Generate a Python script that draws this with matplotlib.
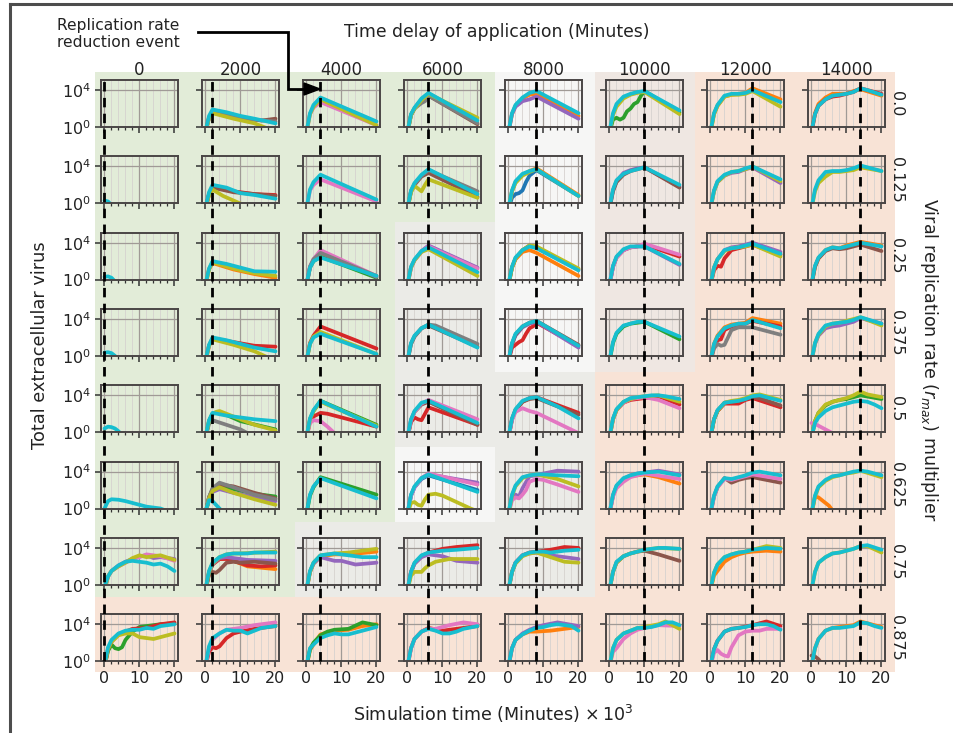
import matplotlib
matplotlib.use("Agg")
import numpy as np
import matplotlib.pyplot as plt
from matplotlib.lines import Line2D
from matplotlib.patches import Rectangle, Polygon
from matplotlib.ticker import FixedLocator, NullLocator

plt.rcParams['font.family'] = ['DejaVu Sans']
plt.rcParams['mathtext.fontset'] = 'dejavusans'

# ---------------------------------------------------------------- data
delays = [0, 2000, 4000, 6000, 8000, 10000, 12000, 14000]          # minutes
multipliers = ['0.0', '0.125', '0.25', '0.375', '0.5', '0.625', '0.75', '0.875']

# outcome zone of each (multiplier, delay) cell
zones = [
    'GGGGWPSS',
    'GGGGWPSS',
    'GGGYWPSS',
    'GGGYWPSS',
    'GGGYYSSS',
    'GGGWYSSS',
    'GGYYYSSS',
    'SSSSSSSS',
]
zone_colors = {'G': '#e2ecd8', 'Y': '#ebebe7', 'W': '#f6f6f5',
               'P': '#efe7e2', 'S': '#f8e3d6'}

# runs: simulation time (x1000 min) -> log10(total extracellular virus)
runs_m0000 = [
    {},
    {'brown': [(0,-.6),(1,1.0),(2,1.6),(6,1.2),(12,0.9),(16,0.7),(20,0.9)],
     'gray': [(0,-.6),(1,1.0),(2,1.7),(8,1.2),(14,0.8),(20,0.6)],
     'olive': [(0,-.6),(1,1.0),(2,1.5),(8,0.9),(14,0.4),(18,-0.2)],
     'cyan': [(0,-.5),(1,1.2),(2,1.9),(6,1.6),(10,1.2),(14,0.9),(20,0.4)]},
    {'pink': [(0,-.6),(1,1.4),(2,2.1),(4,2.7),(20,0.2)],
     'olive': [(0,-.6),(1,1.4),(2,2.2),(4,3.0),(20,0.2)],
     'cyan': [(0,-.5),(1,1.5),(2,2.4),(4,3.2),(20,0.6)]},
    {'brown': [(0,-.6),(1,1.3),(2,2.0),(4,3.0),(6,3.4),(20,0.3)],
     'gray': [(0,-.6),(1,1.3),(2,2.0),(4,2.6),(5,2.8),(6,3.4),(20,0.4)],
     'olive': [(0,-.6),(1,1.3),(2,2.0),(4,2.9),(6,3.6),(20,1.0)],
     'cyan': [(0,-.5),(1,1.4),(2,2.1),(4,3.1),(6,3.7),(20,0.7)]},
    {'orange': [(0,-.6),(1,1.4),(2,2.3),(4,3.1),(6,3.5),(8,3.6),(20,1.2)],
     'purple': [(0,-.6),(1,1.4),(2,2.2),(4,2.8),(6,3.0),(8,3.3),(20,0.9)],
     'cyan': [(0,-.5),(1,1.5),(2,2.4),(4,3.2),(6,3.7),(8,3.9),(20,1.5)]},
    {'green': [(0,-.6),(1,0.8),(2,1.0),(3,0.8),(4,1.0),(5,1.7),(6,2.0),(7,2.5),(8,2.7),(9,3.4),(10,3.9),(20,1.6)],
     'olive': [(0,-.6),(1,1.3),(2,2.2),(4,3.1),(6,3.5),(8,3.7),(10,3.8),(20,1.4)],
     'cyan': [(0,-.5),(1,1.5),(2,2.5),(4,3.3),(6,3.6),(8,3.8),(10,3.9),(20,1.8)]},
    {'orange': [(0,-.6),(1,1.4),(2,2.3),(4,3.3),(6,3.5),(8,3.6),(10,3.7),(12,4.2),(20,3.0)],
     'olive': [(0,-.6),(1,1.4),(2,2.3),(4,3.3),(6,3.5),(8,3.5),(10,3.6),(12,3.9),(20,2.2)],
     'cyan': [(0,-.5),(1,1.5),(2,2.4),(4,3.4),(6,3.6),(8,3.6),(10,3.7),(12,4.0),(20,2.7)]},
    {'orange': [(0,-.6),(1,1.5),(2,2.5),(4,3.2),(6,3.6),(8,3.6),(10,3.6),(12,3.9),(14,4.1),(20,3.4)],
     'red': [(0,-.6),(1,1.4),(2,2.3),(4,3.0),(6,3.3),(8,3.4),(10,3.6),(12,3.8),(14,4.2),(20,3.6)],
     'cyan': [(0,-.5),(1,1.4),(2,2.3),(4,3.0),(6,3.4),(8,3.5),(10,3.6),(12,3.8),(14,4.2),(16,4.0),(20,3.5)]},
]

runs_m0125 = [
    {'cyan': [(0,0.3),(1,0.2),(2,-0.2),(3,-0.6)]},
    {'red': [(0,-.6),(1,1.0),(2,1.8),(8,1.3),(14,1.0),(20,0.9)],
     'brown': [(0,-.6),(1,1.0),(2,1.7),(8,1.2),(14,1.0),(20,0.8)],
     'olive': [(0,-.6),(1,0.9),(2,1.5),(5,0.8),(8,0.3),(11,-0.2)],
     'cyan': [(0,-.5),(1,1.2),(2,2.0),(6,1.7),(10,1.1),(14,0.9),(20,0.5)]},
    {'pink': [(0,-.6),(1,1.4),(2,2.0),(4,2.6),(20,0.2)],
     'cyan': [(0,-.5),(1,1.5),(2,2.3),(4,3.1),(20,0.4)]},
    {'brown': [(0,-.6),(1,1.3),(2,2.0),(4,2.9),(6,3.3),(20,0.7)],
     'gray': [(0,-.6),(1,1.3),(2,2.1),(4,3.0),(6,3.6),(20,1.3)],
     'olive': [(0,-.6),(1,1.2),(2,1.9),(3,1.6),(4,1.3),(5,2.0),(6,2.6),(20,0.6)],
     'cyan': [(0,-.5),(1,1.4),(2,2.2),(4,3.1),(6,3.7),(20,1.0)]},
    {'blue': [(0,-.6),(1,0.6),(2,1.0),(3,1.1),(4,1.4),(5,2.3),(6,3.0),(7,3.3),(8,3.6),(20,0.8)],
     'orange': [(0,-.6),(1,1.3),(2,2.3),(4,3.1),(6,3.5),(8,3.8),(20,0.9)],
     'olive': [(0,-.6),(1,1.3),(2,2.2),(4,3.0),(6,3.4),(8,3.7),(20,0.8)],
     'cyan': [(0,-.5),(1,1.4),(2,2.4),(4,3.2),(6,3.5),(8,3.7),(20,0.8)]},
    {'purple': [(0,-.6),(1,1.4),(2,2.4),(4,3.3),(6,3.6),(8,3.8),(10,3.9),(20,1.8)],
     'brown': [(0,-.6),(1,1.3),(2,2.3),(4,3.1),(6,3.5),(8,3.7),(10,3.9),(20,1.7)],
     'cyan': [(0,-.5),(1,1.5),(2,2.5),(4,3.2),(6,3.5),(8,3.7),(10,3.9),(20,2.0)]},
    {'purple': [(0,-.6),(1,1.3),(2,2.3),(4,3.0),(6,3.3),(8,3.4),(10,3.7),(12,3.9),(20,2.2)],
     'olive': [(0,-.6),(1,1.3),(2,2.3),(4,3.0),(6,3.4),(8,3.5),(10,3.7),(12,4.0),(20,2.4)],
     'cyan': [(0,-.5),(1,1.4),(2,2.4),(4,3.1),(6,3.4),(8,3.5),(10,3.8),(12,4.0),(20,2.6)]},
    {'olive': [(0,-.6),(1,1.3),(2,2.2),(4,2.9),(6,3.4),(8,3.4),(10,3.5),(12,3.6),(14,3.9),(20,3.5)],
     'cyan': [(0,-.5),(1,1.5),(2,2.5),(4,3.4),(6,3.5),(8,3.5),(10,3.6),(12,3.8),(14,4.1),(20,3.5)]},
]

runs_m0250 = [
    {'cyan': [(0,0.3),(1,0.35),(2,0.2),(3,-0.2),(4,-0.6)]},
    {'orange': [(0,-.6),(1,1.1),(2,1.8),(8,1.1),(14,0.6),(20,0.2)],
     'olive': [(0,-.6),(1,1.1),(2,1.9),(8,1.2),(14,0.7),(20,0.4)],
     'cyan': [(0,-.5),(1,1.2),(2,2.0),(6,1.7),(10,1.3),(14,0.9),(20,0.85)]},
    {'green': [(0,-.6),(1,1.3),(2,2.0),(4,2.5),(20,0.2)],
     'purple': [(0,-.6),(1,1.4),(2,2.2),(4,3.0),(20,0.3)],
     'pink': [(0,-.6),(1,1.4),(2,2.2),(4,3.2),(20,0.4)],
     'gray': [(0,-.6),(1,1.4),(2,2.2),(4,2.9),(20,0.4)],
     'cyan': [(0,-.5),(1,1.3),(2,2.0),(4,2.4),(20,0.4)]},
    {'purple': [(0,-.6),(1,1.3),(2,2.1),(4,3.1),(6,3.7),(20,1.3)],
     'pink': [(0,-.6),(1,1.3),(2,2.1),(4,3.0),(6,3.6),(20,1.2)],
     'olive': [(0,-.6),(1,1.3),(2,2.1),(4,3.0),(6,3.3),(20,0.4)],
     'cyan': [(0,-.5),(1,1.4),(2,2.2),(4,3.1),(6,3.5),(20,0.8)]},
    {'orange': [(0,-.6),(1,1.3),(2,2.2),(4,3.0),(6,3.2),(8,2.9),(20,0.4)],
     'brown': [(0,-.6),(1,1.3),(2,2.3),(4,3.2),(6,3.7),(8,3.5),(20,1.1)],
     'olive': [(0,-.6),(1,1.3),(2,2.3),(4,3.2),(6,3.7),(8,3.6),(20,1.2)],
     'cyan': [(0,-.5),(1,1.4),(2,2.4),(4,3.2),(6,3.6),(8,3.4),(20,1.0)]},
    {'red': [(0,-.6),(1,1.4),(2,2.4),(4,3.2),(6,3.5),(8,3.6),(10,3.8),(20,2.5)],
     'purple': [(0,-.6),(1,1.4),(2,2.4),(4,3.2),(6,3.5),(8,3.6),(10,3.6),(20,1.6)],
     'pink': [(0,-.6),(1,1.4),(2,2.4),(4,3.2),(6,3.5),(8,3.6),(10,3.9),(20,2.7)],
     'cyan': [(0,-.5),(1,1.5),(2,2.5),(4,3.3),(6,3.6),(8,3.6),(10,3.6),(20,1.7)]},
    {'red': [(0,-.6),(1,1.0),(2,1.5),(3,1.4),(4,2.3),(6,3.2),(8,3.4),(10,3.6),(12,3.8),(20,2.7)],
     'purple': [(0,-.6),(1,1.3),(2,2.2),(4,3.2),(6,3.5),(8,3.6),(10,3.8),(12,4.0),(20,3.0)],
     'olive': [(0,-.6),(1,1.3),(2,2.2),(4,3.1),(6,3.4),(8,3.5),(10,3.6),(12,3.8),(20,2.5)],
     'cyan': [(0,-.5),(1,1.3),(2,2.2),(4,3.2),(6,3.4),(8,3.5),(10,3.7),(12,3.9),(20,2.8)]},
    {'orange': [(0,-.6),(1,1.4),(2,2.3),(4,3.2),(6,3.5),(8,3.4),(10,3.7),(12,3.9),(14,4.1),(20,3.7)],
     'brown': [(0,-.6),(1,1.4),(2,2.3),(4,3.1),(6,3.4),(8,3.3),(10,3.4),(12,3.6),(14,3.8),(20,3.1)],
     'cyan': [(0,-.5),(1,1.5),(2,2.4),(4,3.2),(6,3.5),(8,3.4),(10,3.6),(12,3.8),(14,4.0),(20,3.6)]},
]

runs_m0375 = [
    {'cyan': [(0,0.35),(1,0.4),(2,0.3),(3,0.0),(4,-0.5)]},
    {'red': [(0,-.6),(1,1.1),(2,1.9),(8,1.5),(14,1.1),(20,1.0)],
     'olive': [(0,-.6),(1,1.1),(2,1.8),(8,1.2),(14,0.5),(18,-0.2)],
     'cyan': [(0,-.5),(1,1.2),(2,2.0),(6,1.7),(10,1.3),(14,0.9),(20,0.5)]},
    {'red': [(0,-.6),(1,1.4),(2,2.2),(4,3.2),(20,0.8)],
     'olive': [(0,-.6),(1,1.3),(2,2.1),(4,2.6),(20,0.2)],
     'cyan': [(0,-.5),(1,1.3),(2,2.0),(4,2.4),(20,0.2)]},
    {'brown': [(0,-.6),(1,1.3),(2,2.1),(4,3.0),(6,3.3),(20,1.0)],
     'gray': [(0,-.6),(1,1.3),(2,2.1),(4,3.0),(6,3.4),(8,3.3),(20,1.3)],
     'cyan': [(0,-.5),(1,1.4),(2,2.2),(4,3.0),(6,3.4),(20,0.9)]},
    {'red': [(0,-.6),(1,0.9),(2,1.2),(3,1.5),(4,1.7),(5,2.4),(6,3.0),(7,3.2),(8,3.6),(20,1.1)],
     'purple': [(0,-.6),(1,1.3),(2,2.2),(4,3.1),(6,3.5),(8,3.7),(20,0.9)],
     'brown': [(0,-.6),(1,1.3),(2,2.3),(4,3.2),(6,3.6),(8,3.8),(20,1.2)],
     'cyan': [(0,-.5),(1,1.4),(2,2.4),(4,3.2),(6,3.6),(8,3.8),(20,1.1)]},
    {'green': [(0,-.6),(1,1.4),(2,2.4),(4,3.2),(6,3.5),(8,3.6),(10,3.7),(20,1.8)],
     'cyan': [(0,-.5),(1,1.5),(2,2.5),(4,3.3),(6,3.5),(8,3.7),(10,3.7),(20,2.1)]},
    {'orange': [(0,-.6),(1,1.3),(2,2.2),(4,3.1),(6,3.4),(8,3.5),(10,3.6),(12,4.1),(20,3.5)],
     'red': [(0,-.6),(1,1.0),(2,1.7),(3,1.8),(4,2.8),(6,3.2),(8,3.4),(10,3.5),(12,3.8),(20,3.2)],
     'gray': [(0,-.6),(1,0.8),(2,1.3),(3,1.1),(4,1.2),(5,2.0),(6,2.8),(8,3.1),(10,3.1),(12,3.1),(20,2.3)],
     'cyan': [(0,-.5),(1,1.3),(2,2.1),(4,3.0),(6,3.3),(8,3.5),(10,3.5),(12,3.9),(20,3.0)]},
    {'purple': [(0,-.6),(1,1.3),(2,2.2),(4,3.0),(6,3.2),(8,3.3),(10,3.5),(12,3.7),(14,4.1),(20,3.5)],
     'olive': [(0,-.6),(1,1.4),(2,2.3),(4,3.2),(6,3.5),(8,3.6),(10,3.8),(12,4.0),(14,4.2),(20,3.3)],
     'cyan': [(0,-.5),(1,1.4),(2,2.4),(4,3.3),(6,3.5),(8,3.6),(10,3.7),(12,3.9),(14,4.2),(20,3.5)]},
]

runs_m0500 = [
    {'cyan': [(0,0.4),(1,0.6),(2,0.55),(3,0.4),(4,0.1),(5,-0.3)]},
    {'green': [(0,-.6),(1,1.2),(2,2.0),(4,2.2),(10,1.2),(20,0.3)],
     'gray': [(0,-.6),(1,0.9),(2,1.3),(6,0.8),(10,0.3),(12,-0.1)],
     'olive': [(0,-.6),(1,1.2),(2,2.0),(3,2.2),(4,2.3),(8,1.7),(14,0.8),(20,0.2)],
     'cyan': [(0,-.5),(1,1.3),(2,2.1),(6,1.8),(10,1.6),(14,1.4),(20,1.2)]},
    {'green': [(0,-.6),(1,1.4),(2,2.3),(4,3.4),(20,0.8)],
     'red': [(0,-.6),(1,1.2),(2,1.7),(4,2.1),(6,2.0),(20,0.6)],
     'pink': [(0,-.6),(1,1.0),(2,1.3),(4,1.2),(6,0.6),(8,-0.1)],
     'olive': [(0,-.6),(1,1.4),(2,2.3),(4,3.3),(20,0.7)],
     'cyan': [(0,-.5),(1,1.5),(2,2.4),(4,3.4),(20,0.6)]},
    {'red': [(0,-.6),(1,1.1),(2,1.6),(3,1.4),(4,1.3),(5,2.0),(6,2.7),(20,0.8)],
     'brown': [(0,-.6),(1,1.3),(2,2.2),(4,3.0),(6,3.3),(20,0.8)],
     'pink': [(0,-.6),(1,1.3),(2,2.2),(4,3.1),(6,3.5),(20,1.4)],
     'cyan': [(0,-.5),(1,1.4),(2,2.3),(4,3.2),(6,3.4),(20,1.0)]},
    {'red': [(0,-.6),(1,1.4),(2,2.4),(4,3.3),(6,3.7),(8,3.8),(20,2.1)],
     'brown': [(0,-.6),(1,1.4),(2,2.4),(4,3.3),(6,3.6),(8,3.7),(20,1.9)],
     'pink': [(0,-.6),(1,1.3),(2,2.2),(4,2.6),(6,2.3),(8,2.1),(20,-0.1)],
     'cyan': [(0,-.5),(1,1.5),(2,2.5),(4,3.4),(6,3.7),(8,3.8),(14,2.8),(20,1.5)]},
    {'red': [(0,-.6),(1,1.4),(2,2.4),(4,3.2),(6,3.5),(8,3.6),(10,3.7),(14,3.9),(20,3.0)],
     'pink': [(0,-.6),(1,1.4),(2,2.4),(4,3.2),(6,3.6),(8,3.7),(10,3.8),(14,3.5),(20,2.6)],
     'olive': [(0,-.6),(1,1.4),(2,2.4),(4,3.3),(6,3.6),(8,3.8),(10,3.9),(14,4.0),(20,3.3)],
     'cyan': [(0,-.5),(1,1.5),(2,2.5),(4,3.3),(6,3.7),(8,3.8),(10,3.9),(12,4.0),(14,4.0),(16,3.9),(20,3.6)]},
    {'red': [(0,-.6),(1,1.4),(2,2.3),(4,3.1),(6,3.1),(8,3.1),(10,3.5),(12,3.7),(20,2.7)],
     'brown': [(0,-.6),(1,1.4),(2,2.3),(4,3.2),(6,3.3),(8,3.4),(10,3.6),(12,3.8),(14,3.7),(20,2.9)],
     'olive': [(0,-.6),(1,1.4),(2,2.3),(4,3.2),(6,3.4),(8,3.5),(10,3.7),(12,4.0),(14,4.1),(20,3.5)],
     'cyan': [(0,-.5),(1,1.4),(2,2.4),(4,3.2),(6,3.3),(8,3.4),(10,3.6),(12,3.9),(14,4.0),(20,3.4)]},
    {'green': [(0,-.6),(1,1.2),(2,2.1),(4,2.9),(6,3.3),(8,3.5),(10,3.6),(12,3.8),(14,4.0),(20,3.6)],
     'pink': [(0,1.0),(1,0.9),(2,0.7),(4,0.3),(6,-0.1),(7,-0.4)],
     'olive': [(0,-.6),(1,1.2),(2,2.1),(4,3.0),(6,3.3),(8,3.5),(10,3.7),(12,4.0),(14,4.4),(16,4.1),(20,3.8)],
     'cyan': [(0,-.5),(1,1.0),(2,1.6),(4,2.3),(6,2.7),(8,2.9),(10,3.1),(12,3.3),(14,3.4),(16,3.3),(18,3.0),(20,2.6)]},
]

runs_m0625 = [
    {'cyan': [(0,0.0),(1,0.8),(2,1.0),(4,0.95),(6,0.8),(8,0.6),(10,0.4),(12,0.2),(14,0.1),(16,0.0),(18,-0.3)]},
    {'green': [(0,-.6),(1,1.2),(2,2.0),(4,2.5),(8,2.1),(14,1.6),(20,1.3)],
     'purple': [(0,-.6),(1,1.1),(2,1.8),(4,2.1),(8,1.7),(14,1.2),(20,0.8)],
     'brown': [(0,-.6),(1,1.2),(2,2.1),(4,2.6),(8,2.4),(14,1.7),(20,1.1)],
     'gray': [(0,-.6),(1,1.2),(2,2.2),(4,2.8),(8,2.3),(14,1.5),(20,1.0)],
     'olive': [(0,-.6),(1,1.1),(2,1.9),(4,2.3),(8,1.7),(14,1.0),(20,0.4)],
     'cyan': [(0,-0.3),(1,0.9),(2,0.8),(3,0.4),(4,0.0),(5,-0.4)]},
    {'green': [(0,-.6),(1,1.4),(2,2.3),(4,3.4),(20,1.5)],
     'cyan': [(0,-.5),(1,1.5),(2,2.4),(4,3.3),(20,1.1)]},
    {'blue': [(0,-.6),(1,1.4),(2,2.3),(4,3.2),(6,3.6),(20,2.0)],
     'purple': [(0,-.6),(1,1.4),(2,2.3),(4,3.3),(6,3.7),(20,2.8)],
     'pink': [(0,-.6),(1,1.4),(2,2.3),(4,3.3),(6,3.8),(20,2.6)],
     'olive': [(0,-.6),(1,0.6),(2,0.7),(3,0.4),(4,0.3),(5,1.0),(6,1.5),(8,1.6),(10,1.4),(14,0.7),(18,0.0),(20,-0.3)],
     'cyan': [(0,-.5),(1,1.5),(2,2.4),(4,3.3),(6,3.7),(20,1.8)]},
    {'purple': [(0,-.6),(1,1.2),(2,1.5),(3,1.3),(4,2.2),(6,3.5),(8,3.6),(10,3.8),(14,4.1),(20,4.0)],
     'pink': [(0,-.6),(1,0.9),(2,1.2),(3,1.1),(4,1.5),(5,2.0),(6,2.9),(8,3.2),(10,3.1),(14,2.6),(20,1.8)],
     'olive': [(0,-.6),(1,1.4),(2,2.4),(4,3.3),(6,3.6),(8,3.7),(14,3.2),(20,2.4)],
     'cyan': [(0,-.5),(1,1.5),(2,2.5),(4,3.4),(6,3.6),(8,3.7),(10,3.7),(14,3.6),(20,3.5)]},
    {'orange': [(0,-.6),(1,1.4),(2,2.4),(4,3.2),(6,3.5),(8,3.6),(10,3.7),(14,3.4),(20,2.7)],
     'purple': [(0,-.6),(1,1.4),(2,2.4),(4,3.2),(6,3.6),(8,3.8),(10,3.9),(14,4.1),(20,3.7)],
     'pink': [(0,-.6),(1,1.3),(2,2.2),(4,2.9),(6,3.4),(8,3.6),(10,3.8),(20,3.2)],
     'cyan': [(0,-.5),(1,1.5),(2,2.5),(4,3.3),(6,3.6),(8,3.8),(10,3.9),(14,4.0),(20,3.6)]},
    {'brown': [(0,-.6),(1,1.3),(2,2.3),(4,3.3),(6,2.8),(8,3.1),(10,3.3),(12,3.4),(20,2.8)],
     'pink': [(0,-.6),(1,1.3),(2,2.3),(4,3.2),(6,3.1),(8,3.3),(10,3.5),(12,3.7),(20,3.2)],
     'cyan': [(0,-.5),(1,1.4),(2,2.4),(4,3.3),(6,3.2),(8,3.4),(10,3.6),(12,3.9),(14,4.0),(20,3.6)]},
    {'orange': [(0,-.6),(1,1.3),(2,1.2),(3,0.9),(4,0.6),(5,0.3),(6,-0.2)],
     'olive': [(0,-.6),(1,1.3),(2,2.3),(4,3.0),(6,3.4),(8,3.6),(10,3.8),(12,3.9),(14,4.1),(20,3.4)],
     'cyan': [(0,-.5),(1,1.4),(2,2.4),(4,3.1),(6,3.5),(8,3.6),(10,3.8),(12,4.0),(14,4.1),(16,4.0),(20,3.6)]},
]

runs_m0750 = [
    {'purple': [(0,-.6),(1,0.9),(2,1.5),(4,2.1),(6,2.5),(8,2.8),(10,3.1),(12,3.2),(14,2.9),(16,3.0),(20,2.8)],
     'pink': [(0,-.6),(1,0.9),(2,1.5),(4,2.0),(6,2.4),(8,2.8),(10,3.0),(12,3.3),(16,3.1),(20,2.6)],
     'olive': [(0,-.6),(1,0.9),(2,1.5),(4,2.0),(6,2.4),(8,2.9),(10,3.2),(12,3.0),(14,3.1),(16,3.2),(20,2.7)],
     'cyan': [(0,-.2),(1,0.9),(2,1.5),(4,2.1),(6,2.5),(8,2.6),(10,2.5),(12,2.4),(14,2.2),(16,2.3),(18,2.0),(20,1.5)]},
    {'orange': [(0,-.6),(1,1.3),(2,2.2),(4,2.8),(6,2.9),(8,2.6),(12,2.0),(20,1.7)],
     'red': [(0,-.6),(1,1.3),(2,2.2),(4,2.8),(6,2.8),(8,2.6),(12,2.1),(16,2.0),(20,2.1)],
     'purple': [(0,-.6),(1,1.3),(2,2.2),(4,2.9),(6,3.0),(8,2.9),(12,2.7),(20,2.6)],
     'brown': [(0,-.6),(1,1.1),(2,1.4),(3,1.3),(4,1.6),(6,2.4),(8,2.5),(10,2.4),(14,2.5),(20,2.3)],
     'olive': [(0,-.6),(1,1.4),(2,2.3),(4,3.0),(6,3.3),(8,3.4),(10,3.4),(20,3.6)],
     'cyan': [(0,-.5),(1,1.5),(2,2.4),(4,3.0),(6,3.3),(8,3.4),(10,3.4),(12,3.4),(14,3.5),(20,3.5)]},
    {'orange': [(0,-.6),(1,1.4),(2,2.3),(4,3.1),(6,3.2),(8,3.3),(12,3.3),(20,3.6)],
     'purple': [(0,-.6),(1,1.4),(2,2.3),(4,3.0),(6,2.8),(8,2.6),(10,2.6),(14,2.2),(20,2.4)],
     'olive': [(0,-.6),(1,1.4),(2,2.4),(4,3.2),(6,3.3),(8,3.4),(12,3.5),(16,3.7),(20,3.9)],
     'cyan': [(0,-.5),(1,1.5),(2,2.4),(4,3.2),(6,3.3),(8,3.4),(10,3.3),(12,3.2),(16,3.0),(20,3.0)]},
    {'red': [(0,-.6),(1,1.4),(2,2.3),(4,3.1),(6,3.5),(10,3.9),(14,4.1),(20,4.3)],
     'purple': [(0,-.6),(1,1.4),(2,2.3),(4,3.0),(6,3.3),(10,3.1),(14,2.6),(20,2.4)],
     'olive': [(0,-.6),(1,1.0),(2,1.4),(4,1.4),(5,1.8),(6,2.1),(8,2.5),(12,2.8),(20,2.8)],
     'cyan': [(0,-.5),(1,1.4),(2,2.4),(4,3.2),(6,3.5),(8,3.6),(10,3.7),(14,3.8),(20,4.0)]},
    {'red': [(0,-.6),(1,1.4),(2,2.4),(4,3.2),(6,3.5),(8,3.6),(12,3.8),(16,4.1),(20,4.0)],
     'purple': [(0,-.6),(1,1.4),(2,2.4),(4,3.2),(6,3.4),(8,3.5),(12,3.2),(20,2.8)],
     'olive': [(0,-.6),(1,1.4),(2,2.3),(4,3.1),(6,3.4),(8,3.5),(12,3.0),(16,2.5),(20,2.4)],
     'cyan': [(0,-.5),(1,1.4),(2,2.4),(4,3.2),(6,3.5),(8,3.6),(10,3.6),(12,3.5),(14,3.6),(16,3.7),(20,3.8)]},
    {'brown': [(0,-.6),(1,1.4),(2,2.4),(4,3.1),(6,3.4),(8,3.6),(10,3.7),(14,3.3),(20,2.6)],
     'olive': [(0,-.6),(1,1.4),(2,2.4),(4,3.1),(6,3.4),(8,3.6),(10,3.8),(14,4.0),(20,3.9)],
     'cyan': [(0,-.5),(1,1.4),(2,2.5),(4,3.1),(6,3.4),(8,3.6),(10,3.8),(12,3.9),(14,4.0),(16,4.0),(20,3.9)]},
    {'orange': [(0,-.6),(1,1.0),(2,1.5),(4,2.5),(6,3.0),(8,3.3),(10,3.5),(12,3.6),(16,3.7),(20,3.6)],
     'olive': [(0,-.6),(1,1.3),(2,2.2),(4,3.0),(6,3.3),(8,3.5),(10,3.6),(12,3.8),(16,4.2),(20,4.0)],
     'cyan': [(0,-.5),(1,1.3),(2,2.2),(4,3.0),(6,3.3),(8,3.5),(10,3.6),(12,3.8),(14,3.9),(16,4.0),(20,3.9)]},
    {'olive': [(0,-.6),(1,1.4),(2,2.4),(4,3.0),(6,3.4),(8,3.5),(10,3.7),(12,3.9),(14,4.2),(16,4.2),(20,3.5)],
     'cyan': [(0,-.5),(1,1.4),(2,2.4),(4,3.0),(6,3.4),(8,3.5),(10,3.7),(12,3.9),(14,4.2),(16,4.3),(20,3.8)]},
]

runs_m0875 = [
    {'green': [(0,-.6),(1,1.1),(2,1.8),(3,1.4),(4,1.3),(5,1.5),(6,2.3),(8,3.2),(10,3.7),(12,3.8),(16,4.0),(20,4.1)],
     'red': [(0,-.6),(1,1.3),(2,2.1),(4,2.9),(6,3.2),(8,3.5),(12,3.6),(16,4.0),(20,4.2)],
     'olive': [(0,-.6),(1,1.3),(2,2.1),(4,2.8),(6,3.0),(8,3.0),(10,2.6),(14,2.4),(16,2.6),(20,3.0)],
     'cyan': [(0,-.5),(1,1.5),(2,2.3),(4,3.0),(6,3.3),(8,3.4),(10,3.4),(12,3.6),(14,3.5),(16,3.8),(20,4.0)]},
    {'red': [(0,-.6),(1,1.0),(2,1.5),(3,1.4),(4,1.6),(6,2.5),(8,3.0),(10,3.2),(14,3.5),(20,3.8)],
     'pink': [(0,-.6),(1,1.4),(2,2.3),(4,3.0),(6,3.4),(8,3.5),(10,3.6),(14,3.9),(20,4.2)],
     'cyan': [(0,-.5),(1,1.6),(2,2.5),(4,3.0),(6,3.4),(8,3.3),(10,3.3),(12,3.0),(14,3.3),(16,3.6),(20,3.8)]},
    {'orange': [(0,-.6),(1,1.2),(2,1.8),(4,2.9),(6,3.1),(8,3.3),(12,3.4),(16,3.8),(20,4.0)],
     'green': [(0,-.6),(1,1.3),(2,2.0),(4,2.8),(6,3.2),(8,3.4),(12,3.5),(16,4.2),(20,3.9)],
     'cyan': [(0,-.5),(1,1.4),(2,1.8),(4,2.5),(6,2.8),(8,3.0),(10,2.9),(12,2.9),(14,3.1),(16,3.3),(20,3.7)]},
    {'red': [(0,-.6),(1,1.4),(2,2.4),(4,3.2),(6,3.6),(10,3.3),(20,3.8)],
     'pink': [(0,-.6),(1,1.4),(2,2.4),(4,3.2),(6,3.5),(8,3.5),(12,3.9),(16,4.2),(20,4.0)],
     'cyan': [(0,-.5),(1,1.4),(2,2.4),(4,3.2),(6,3.5),(8,3.3),(10,3.0),(12,3.0),(14,3.2),(16,3.5),(20,3.8)]},
    {'orange': [(0,-.6),(1,1.4),(2,2.3),(4,2.9),(6,3.2),(8,3.2),(12,3.3),(20,3.7)],
     'purple': [(0,-.6),(1,1.4),(2,2.3),(4,3.0),(6,3.4),(8,3.7),(10,3.9),(14,4.2),(20,3.8)],
     'cyan': [(0,-.5),(1,1.4),(2,2.3),(4,2.9),(6,3.3),(8,3.6),(10,3.7),(12,3.9),(14,4.0),(16,3.9),(18,3.8),(20,3.3)]},
    {'pink': [(0,-.6),(1,1.0),(2,1.4),(4,2.4),(6,3.0),(8,3.4),(10,3.6),(14,3.9),(20,3.8)],
     'olive': [(0,-.6),(1,1.4),(2,2.3),(4,3.0),(6,3.3),(8,3.6),(10,3.7),(14,4.0),(16,4.3),(20,3.5)],
     'cyan': [(0,-.5),(1,1.4),(2,2.3),(4,3.0),(6,3.3),(8,3.6),(10,3.6),(12,3.7),(14,3.9),(16,4.2),(18,4.2),(20,3.9)]},
    {'red': [(0,-.6),(1,1.3),(2,2.2),(4,3.2),(6,3.5),(8,3.6),(12,3.9),(16,4.3),(20,3.8)],
     'pink': [(0,-.6),(1,0.9),(2,1.2),(3,0.8),(4,0.6),(5,0.5),(6,1.5),(8,2.8),(10,3.2),(12,3.3),(14,3.3),(16,3.5),(20,3.5)],
     'cyan': [(0,-.5),(1,1.3),(2,2.2),(4,3.2),(6,3.5),(8,3.6),(10,3.7),(12,3.9),(14,4.0),(16,4.0),(18,3.8),(20,3.4)]},
    {'orange': [(0,-.6),(1,1.4),(2,2.4),(4,3.3),(6,3.6),(8,3.7),(10,3.8),(12,3.9),(14,4.3),(20,3.7)],
     'brown': [(0,0.6),(1,0.5),(2,0.2),(3,-0.3)],
     'cyan': [(0,-.5),(1,1.4),(2,2.4),(4,3.3),(6,3.6),(8,3.6),(10,3.7),(12,3.8),(14,4.2),(16,4.1),(18,3.8),(20,3.6)]},
]

all_runs = [runs_m0000, runs_m0125, runs_m0250, runs_m0375,
            runs_m0500, runs_m0625, runs_m0750, runs_m0875]

tab10_order = ['blue', 'orange', 'green', 'red', 'purple',
               'brown', 'pink', 'gray', 'olive', 'cyan']

# ---------------------------------------------------------------- layout
W, H = 954, 733
fig = plt.figure(figsize=(W / 100, H / 100), dpi=100)


def fx(px):
    return px / W


def fy(py):
    return 1 - py / H


ink = '#222222'

# outcome zones behind the grid
cell_w, cell_h = 100.0, 75.0
for r, row in enumerate(zones):
    for c, z in enumerate(row):
        x0 = 95 + cell_w * c
        y0 = 72 + cell_h * r
        fig.add_artist(Rectangle((fx(x0), fy(y0 + cell_h)), cell_w / W, cell_h / H,
                                 transform=fig.transFigure, facecolor=zone_colors[z],
                                 edgecolor='none', zorder=-5))

panel_w, panel_h = 77, 47
col_pitch, row_pitch = 101.0, 76.3
axes = {}
for r in range(8):
    for c in range(8):
        left = 101 + col_pitch * c
        top = 80 + row_pitch * r
        ax = fig.add_axes([fx(left), fy(top + panel_h), panel_w / W, panel_h / H])
        ax.set_facecolor('none')
        ax.set_yscale('log')
        panel = all_runs[r][c]
        for name in tab10_order:
            if name in panel:
                t, v = zip(*panel[name])
                ax.plot(t, 10.0 ** np.array(v), color='tab:' + name, lw=2.7,
                        solid_joinstyle='round', solid_capstyle='round')
        ax.set_xlim(-1, 21)
        ax.set_ylim(1, 10 ** 5.1)
        ax.yaxis.set_major_locator(FixedLocator([1, 1e4]))
        ax.yaxis.set_minor_locator(NullLocator())
        ax.xaxis.set_major_locator(FixedLocator([0, 10, 20]))
        ax.xaxis.set_minor_locator(FixedLocator(list(range(0, 21, 2))))
        ax.grid(True, which='major', color='#a09a96', lw=0.9)
        ax.grid(True, which='minor', axis='x', color='#d6d2cf', lw=0.6)
        ax.set_axisbelow(True)
        ax.tick_params(which='major', direction='out', length=4.5, width=1.1,
                       color='#333333', labelsize=11.5, labelcolor=ink, pad=2.5)
        ax.tick_params(which='minor', direction='out', length=2.5, width=0.9,
                       color='#333333')
        for s in ax.spines.values():
            s.set_color('#4a4646')
            s.set_linewidth(1.4)
        if c == 0:
            ax.set_yticklabels(['$10^0$', '$10^4$'])
        else:
            ax.set_yticklabels([])
        if r == 7:
            ax.set_xticklabels(['0', '10', '20'])
        else:
            ax.set_xticklabels([])
        axes[(r, c)] = ax

# dashed marker of the replication-rate reduction time, through every row
fig.canvas.draw()
y_top = fy(80)
y_bot = fy(80 + row_pitch * 7 + panel_h)
for c, d in enumerate(delays):
    ax = axes[(7, c)]
    xd = ax.transData.transform((d / 1000.0, 1.0))[0]
    xf = xd / fig.bbox.width
    fig.add_artist(Line2D([xf, xf], [y_bot, y_top], transform=fig.transFigure,
                          color='black', lw=2.0, ls=(0, (3.4, 2.3)), zorder=10))

# column headers and row labels
for c, d in enumerate(delays):
    fig.text(fx(101 + col_pitch * c + panel_w / 2), fy(75), str(d), ha='center',
             va='baseline', fontsize=12, color=ink)
for r, m in enumerate(multipliers):
    fig.text(fx(897), fy(80 + row_pitch * r + panel_h / 2), m, rotation=-90,
             ha='center', va='center', fontsize=11.5, color=ink)

fig.text(fx(497), fy(37), 'Time delay of application (Minutes)', ha='center',
         va='baseline', fontsize=12.4, color=ink)
fig.text(fx(493), fy(721), r'Simulation time (Minutes) $\times\,10^3$', ha='center',
         va='baseline', fontsize=12.6, color=ink)
fig.text(fx(40), fy(345), 'Total extracellular virus', rotation=90, ha='center',
         va='center', fontsize=12.8, color=ink)
fig.text(fx(929), fy(360), r'Viral replication rate ($r_{max}$) multiplier',
         rotation=-90, ha='center', va='center', fontsize=12.6, color=ink)

# callout for the reduction event
fig.text(fx(57), fy(47), 'Replication rate\nreduction event', ha='left',
         va='baseline', fontsize=11.2, color=ink, linespacing=1.15)
fig.add_artist(Line2D([fx(198), fx(288), fx(288), fx(306)],
                      [fy(32), fy(32), fy(89), fy(89)], transform=fig.transFigure,
                      color='black', lw=2.0, solid_joinstyle='miter', zorder=11))
fig.add_artist(Polygon([(fx(304), fy(83)), (fx(304), fy(95)), (fx(320), fy(89))],
                       closed=True, transform=fig.transFigure, facecolor='black',
                       edgecolor='black', zorder=11))

# outer frame (top and left edges)
fig.add_artist(Line2D([fx(10), fx(954)], [fy(3.5), fy(3.5)], transform=fig.transFigure,
                      color='#4d4d4d', lw=2.2))
fig.add_artist(Line2D([fx(10), fx(10)], [fy(3.5), fy(733)], transform=fig.transFigure,
                      color='#4d4d4d', lw=2.2))

fig.savefig('out.png', dpi=100)
